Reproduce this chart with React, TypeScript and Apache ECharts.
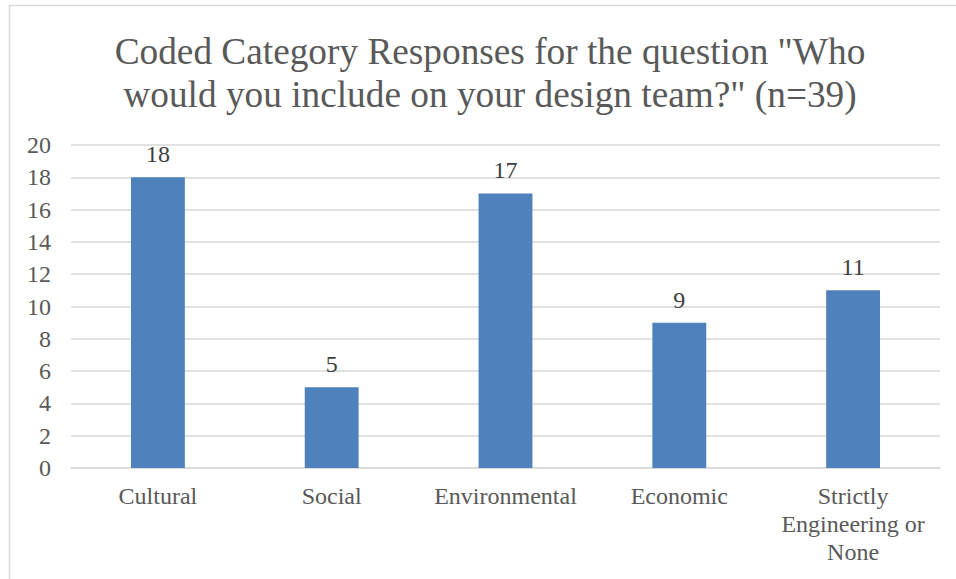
import React, { useEffect, useRef } from "react";
import * as echarts from "echarts";

const categories = ["Cultural", "Social", "Environmental", "Economic", "Strictly\nEngineering or\nNone"];
const values = [18, 5, 17, 9, 11];
const titleLines = ["Coded Category Responses for the question \"Who", "would you include on your design team?\" (n=39)"];

export default function App() {
  const ref = useRef<HTMLDivElement>(null);
  useEffect(() => {
    const chart = echarts.init(ref.current!, null, { renderer: "svg" });
    const font = "Liberation Serif";
    chart.setOption({
      animation: false,
      backgroundColor: "#ffffff",
      textStyle: { fontFamily: font },
      graphic: [
        {
          type: "rect",
          shape: { x: 9.5, y: 5.5, width: 1000, height: 700 },
          style: { fill: "none", stroke: "#d9d9d9", lineWidth: 1.5 },
          silent: true,
        },
        {
          type: "text",
          x: 490,
          y: 30,
          silent: true,
          style: {
            text: titleLines.join("\n"),
            fontFamily: font,
            fontSize: 37.3,
            lineHeight: 43,
            fill: "#595959",
            align: "center",
            verticalAlign: "top",
          },
        },
      ],
      grid: { left: 71, right: 16, top: 145, bottom: 111, containLabel: false },
      xAxis: {
        type: "category",
        data: categories,
        axisLine: { show: true, lineStyle: { color: "#d9d9d9", width: 1.5 } },
        axisTick: { show: false },
        axisLabel: { fontFamily: font, fontSize: 24, color: "#595959", margin: 14, lineHeight: 28, interval: 0 },
      },
      yAxis: {
        type: "value",
        min: 0,
        max: 20,
        interval: 2,
        axisLine: { show: false },
        axisTick: { show: false },
        splitLine: { lineStyle: { color: "#d9d9d9", width: 1.5 } },
        axisLabel: { fontFamily: font, fontSize: 24, color: "#595959", margin: 20 },
      },
      series: [
        {
          type: "bar",
          data: values,
          barWidth: "31%",
          itemStyle: { color: "#4f81bd" },
          label: { show: true, position: "top", distance: 11, fontFamily: font, fontSize: 24, color: "#404040" },
        },
      ],
    });
    return () => chart.dispose();
  }, []);
  return <div ref={ref} style={{ position: "fixed", left: 0, top: 0, width: 956, height: 579 }} />;
}
